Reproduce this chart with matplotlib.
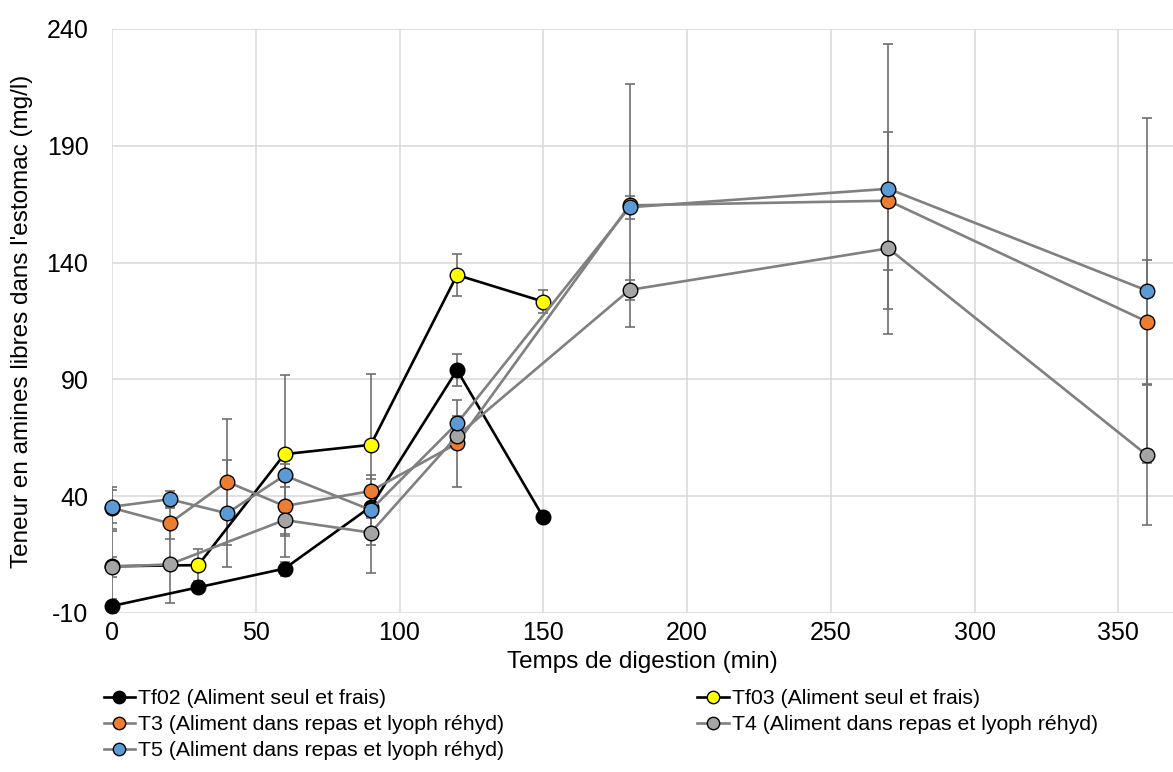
import matplotlib
matplotlib.use("Agg")
import matplotlib.pyplot as plt

plt.rcParams['font.family'] = ['Liberation Sans', 'DejaVu Sans']
plt.rcParams['axes.unicode_minus'] = False

# temps de digestion (min) et teneurs (mg/l)
x_tf = [0, 30, 60, 90, 120, 150]
tf02 = [-7, 1, 9, 35.5, 94, 31]
tf02_err = [3, 2, 3, 5, 6.7, 1]
tf03 = [10, 10.5, 58, 62, 134.7, 123.3]
tf03_err = [15, 7, 34, 30.5, 9, 5]

x_t3 = [0, 20, 40, 60, 90, 120, 180, 270, 360]
t3 = [35, 28.4, 46.2, 35.8, 42.2, 62.6, 164.5, 166.5, 114.7]
t3_err = [9, 6.6, 27, 22, 5, 18.6, 52, 29.5, 26.5]

x_t4 = [0, 20, 60, 90, 120, 180, 270, 360]
t4 = [9.8, 10.8, 29.8, 24.4, 65.8, 128.3, 146.1, 57.5]
t4_err = [4.2, 16.6, 7, 17.4, 3, 4.3, 26, 30]

x_t5 = [0, 20, 40, 60, 90, 120, 180, 270, 360]
t5 = [35.5, 38.7, 32.7, 48.9, 34.1, 71.2, 163.7, 171.6, 128]
t5_err = [7, 3.5, 23, 5, 15, 3, 5, 62, 74]

series = [
    ("Tf02 (Aliment seul et frais)", x_tf, tf02, tf02_err, "black", "black"),
    ("Tf03 (Aliment seul et frais)", x_tf, tf03, tf03_err, "black", "#FFFF00"),
    ("T3 (Aliment dans repas et lyoph réhyd)", x_t3, t3, t3_err, "#808080", "#ED7D31"),
    ("T4 (Aliment dans repas et lyoph réhyd)", x_t4, t4, t4_err, "#808080", "#A5A5A5"),
    ("T5 (Aliment dans repas et lyoph réhyd)", x_t5, t5, t5_err, "#808080", "#5B9BD5"),
]

fig = plt.figure(figsize=(11.73, 7.72), dpi=100)
ax = fig.add_axes([112 / 1173, 1 - 613 / 772, 1 - 112 / 1173, (613 - 29) / 772])

handles = {}
for i, (name, xs, ys, err, lc, mc) in enumerate(series):
    ax.errorbar(xs, ys, yerr=err, fmt='none', ecolor="#6f6f6f", elinewidth=1.2,
                capsize=3.5, capthick=1.2, zorder=3 + i * 0.1)
    h, = ax.plot(xs, ys, color=lc, lw=1.9, marker='o', markersize=10.5,
                 markerfacecolor=mc, markeredgecolor='black', markeredgewidth=1,
                 label=name, zorder=4 + i * 0.1, clip_on=False)
    handles[name] = h

ax.set_xlim(0, 369)
ax.set_ylim(-10, 240)
ax.set_xticks([0, 50, 100, 150, 200, 250, 300, 350])
ax.set_yticks([-10, 40, 90, 140, 190, 240])
ax.grid(True, color="#d9d9d9", lw=1.1)
ax.set_axisbelow(True)
for s in ax.spines.values():
    s.set_visible(False)
ax.tick_params(length=0, labelsize=18)
ax.tick_params(axis='x', pad=6)
ax.tick_params(axis='y', pad=17)
ax.set_xlabel("Temps de digestion (min)", fontsize=17.5, labelpad=4)
ax.set_ylabel("Teneur en amines libres dans l'estomac (mg/l)", fontsize=17.5, labelpad=10)

names = [s[0] for s in series]
order = [names[0], names[2], names[4], names[1], names[3]]
fig.legend([handles[n] for n in order], order, ncol=2, frameon=False,
           loc='upper left', bbox_to_anchor=(0.081, 0.118), fontsize=15.3,
           handlelength=1.5, handletextpad=0.12, columnspacing=9.1,
           labelspacing=0.33, borderaxespad=0, markerscale=0.85)

fig.savefig("out.png", dpi=100)
